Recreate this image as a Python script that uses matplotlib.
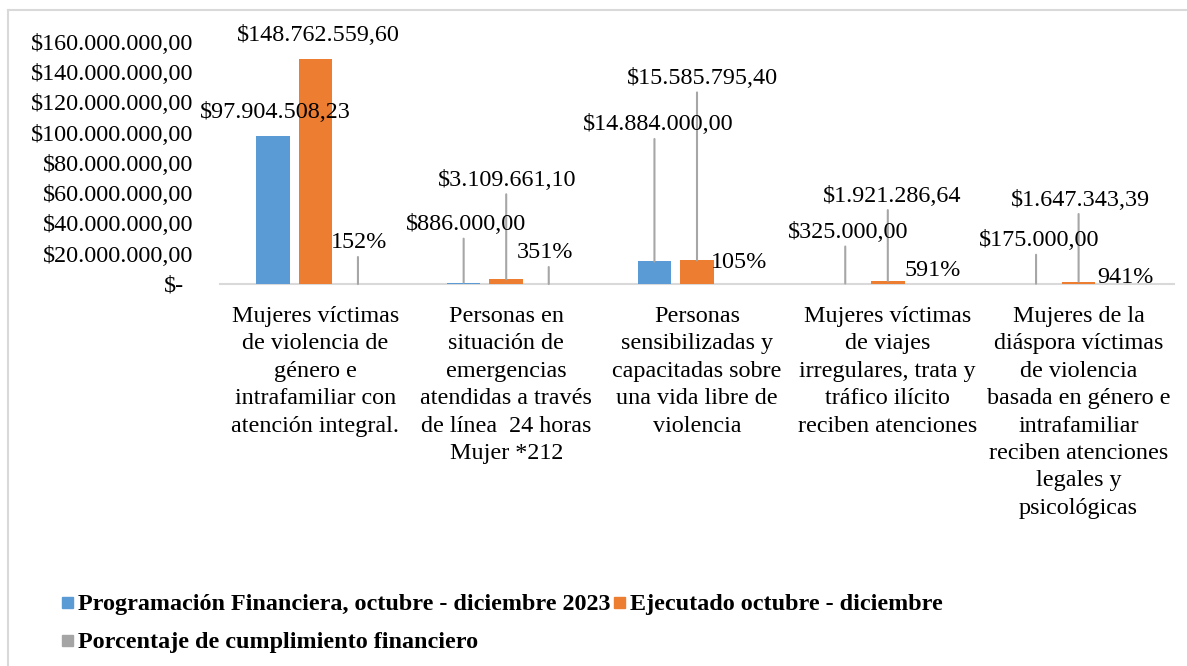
import matplotlib
matplotlib.use("Agg")
import matplotlib.pyplot as plt
from matplotlib.transforms import ScaledTranslation
from matplotlib.patches import Rectangle
from matplotlib.lines import Line2D
import numpy as np

plt.rcParams['font.family'] = ['Liberation Serif', 'DejaVu Serif']

# ---------------- data ----------------
categories = [
    "Mujeres víctimas\nde violencia de\ngénero e\nintrafamiliar con\natención integral.",
    "Personas en\nsituación de\nemergencias\natendidas a través\nde línea  24 horas\nMujer *212",
    "Personas\nsensibilizadas y\ncapacitadas sobre\nuna vida libre de\nviolencia",
    "Mujeres víctimas\nde viajes\nirregulares, trata y\ntráfico ilícito\nreciben atenciones",
    "Mujeres de la\ndiáspora víctimas\nde violencia\nbasada en género e\nintrafamiliar\nreciben atenciones\nlegales y\npsicológicas",
]
programado = [97904508.23, 886000.00, 14884000.00, 325000.00, 175000.00]
ejecutado = [148762559.60, 3109661.10, 15585795.40, 1921286.64, 1647343.39]
cumplimiento = [1.52, 3.51, 1.05, 5.91, 9.41]

series_names = ["Programación Financiera, octubre - diciembre 2023",
                "Ejecutado octubre - diciembre",
                "Porcentaje de cumplimiento financiero"]
colors = ["#5B9BD5", "#ED7D31", "#A5A5A5"]
yticks = [0, 20e6, 40e6, 60e6, 80e6, 100e6, 120e6, 140e6, 160e6]

# label placement (pixels: dx from bar center, dy above bar top)
lab_dx = [[2.5, 2, 3.5, 2.5, 3], [3, 1, 5, 4, 2], [1.5, -3.5, -1, 2, 4]]
lab_dy = [[26, 61, 139.5, 54, 46], [26, 102, 185, 88, 84.5], [44, 34, 24, 16, 9]]

FS = 17.4


def money(v):
    if v == 0:
        return "$-"
    s = f"{v:,.2f}"
    s = s.replace(",", "X").replace(".", ",").replace("X", ".")
    return "$" + s


W, H = 1187, 666
DPI = 100
fig = plt.figure(figsize=(W / DPI, H / DPI), dpi=DPI)
fig.patch.set_facecolor("white")

# outer frame
fig.add_artist(Line2D([8 / W, 1.0], [1 - 10 / H, 1 - 10 / H], color="#D9D9D9", lw=1.5,
                      transform=fig.transFigure))
fig.add_artist(Line2D([8 / W, 8 / W], [0, 1 - 10 / H], color="#D9D9D9", lw=1.5,
                      transform=fig.transFigure))

ax_l, ax_r, ax_t, ax_b = 220, 1174, 42, 284
ax = fig.add_axes([ax_l / W, 1 - ax_b / H, (ax_r - ax_l) / W, (ax_b - ax_t) / H])
ax.set_xlim(-0.5, len(categories) - 0.5)
ax.set_ylim(0, 160e6)

x = np.arange(len(categories))
bw = 0.176
off = 0.223
all_vals = [programado, ejecutado, cumplimiento]
for k, vals in enumerate(all_vals):
    ax.bar(x + (k - 1) * off, vals, width=bw, color=colors[k], zorder=2)

for sp in ["top", "right", "left"]:
    ax.spines[sp].set_visible(False)
ax.spines["bottom"].set_color("#D9D9D9")
ax.spines["bottom"].set_linewidth(1.5)
ax.spines["bottom"].set_zorder(1)

ax.set_yticks(yticks)
ax.set_yticklabels([money(v) for v in yticks], fontsize=FS)
ax.tick_params(axis="y", length=0, pad=19)
ax.tick_params(axis="x", length=0)
ax.set_xticks(x)
ax.set_xticklabels([""] * len(x))
lbl0 = ax.get_yticklabels()[0]
lbl0.set_transform(lbl0.get_transform() + ScaledTranslation(-10 / DPI, 0, fig.dpi_scale_trans))

# category labels, line by line
for i, cat in enumerate(categories):
    for j, line in enumerate(cat.split("\n")):
        tr = ax.get_xaxis_transform() + ScaledTranslation(0, -(38 + 27.4 * j) / DPI, fig.dpi_scale_trans)
        ax.text(i, 0, line, transform=tr, ha="center", va="baseline", fontsize=FS, color="black")

# data labels with leader lines
for k, vals in enumerate(all_vals):
    for i, v in enumerate(vals):
        txt = money(v) if k < 2 else f"{v * 100:.0f}%"
        xb = i + (k - 1) * off
        dy = lab_dy[k][i]
        if dy > 30:
            ax.annotate("", xy=(xb, v), xytext=(0, dy - 17), textcoords="offset pixels",
                        arrowprops=dict(arrowstyle="-", color="#A6A6A6", lw=1.5,
                                        shrinkA=0, shrinkB=0),
                        annotation_clip=False, zorder=3)
        ax.annotate(txt, xy=(xb, v), xytext=(lab_dx[k][i], dy - 3), textcoords="offset pixels",
                    ha="center", va="center", fontsize=FS, color="black",
                    annotation_clip=False, zorder=4)

# legend (manual)
fig.canvas.draw()
renderer = fig.canvas.get_renderer()
sq = 11


def legend_item(xpx, base_y, color, label):
    fig.add_artist(Rectangle((xpx / W, 1 - (base_y - 2) / H), sq / W, sq / H,
                             transform=fig.transFigure, color=color))
    t = fig.text((xpx + sq + 5) / W, 1 - base_y / H, label, fontsize=FS, fontweight="bold",
                 ha="left", va="baseline", color="black")
    return t


t1 = legend_item(62, 610, colors[0], series_names[0])
bb = t1.get_window_extent(renderer)
legend_item(bb.x1 + 3, 610, colors[1], series_names[1])
legend_item(62, 648, colors[2], series_names[2])

fig.savefig("out.png", dpi=DPI, facecolor="white")
